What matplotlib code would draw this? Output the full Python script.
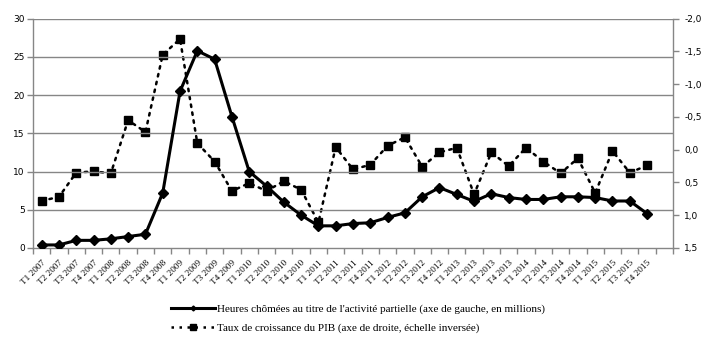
import matplotlib
matplotlib.use("Agg")
import matplotlib.pyplot as plt
from matplotlib.ticker import FuncFormatter, FixedLocator
from matplotlib.lines import Line2D

quarters = [f"T{q} {y}" for y in range(2007, 2016) for q in range(1, 5)]

heures = [0.4, 0.4, 1.0, 1.0, 1.2, 1.5, 1.8, 7.2, 20.5, 25.8, 24.7, 17.2,
          10.0, 8.1, 6.0, 4.3, 2.9, 2.9, 3.2, 3.3, 4.0, 4.6, 6.7, 7.9,
          7.0, 6.1, 7.1, 6.6, 6.35, 6.35, 6.7, 6.7, 6.6, 6.15, 6.15, 4.5]

pib = [0.78, 0.72, 0.35, 0.33, 0.36, -0.45, -0.27, -1.45, -1.69, -0.10, 0.18, 0.63,
       0.51, 0.63, 0.48, 0.61, 1.11, -0.04, 0.30, 0.23, -0.06, -0.19, 0.26, 0.04,
       -0.03, 0.68, 0.04, 0.25, -0.03, 0.18, 0.36, 0.13, 0.66, 0.02, 0.35, 0.24]

label_heures = "Heures chômées au titre de l'activité partielle (axe de gauche, en millions)"
label_pib = "Taux de croissance du PIB (axe de droite, échelle inversée)"

grey = "#868686"
serif = ["Liberation Serif", "DejaVu Serif"]
sans = ["DejaVu Sans"]

fig = plt.figure(figsize=(7.08, 3.49), dpi=100)
ax = fig.add_axes([0.0466, 0.2894, 0.904, 0.657])
ax2 = ax.twinx()

x = list(range(len(quarters)))

ax.set_ylim(0, 30)
ax.set_xlim(-0.5, len(quarters) + 0.5)
ax.set_yticks(range(0, 31, 5))
for v in range(5, 31, 5):
    ax.axhline(v, color=grey, lw=1.0, zorder=0)

ax2.set_ylim(1.5, -2.0)
ax2.set_yticks([-2.0, -1.5, -1.0, -0.5, 0.0, 0.5, 1.0, 1.5])
ax2.yaxis.set_major_formatter(FuncFormatter(lambda v, p: f"{v:.1f}".replace(".", ",").replace("-0,0", "0,0")))

ax2.plot(x, pib, color="black", lw=1.8, ls=(0, (1, 2.2)), marker="s", markersize=6,
         zorder=3, dash_capstyle="round")
ax.plot(x, heures, color="black", lw=2.2, marker="D", markersize=5, zorder=4)
ax.set_zorder(ax2.get_zorder() + 1)
ax.patch.set_visible(False)

for a in (ax, ax2):
    a.spines["top"].set_visible(False)
    for s in ("left", "right", "bottom"):
        a.spines[s].set_color(grey)
        a.spines[s].set_linewidth(1.0)
ax.spines["right"].set_visible(False)
ax2.spines["left"].set_visible(False)
ax2.spines["bottom"].set_visible(False)

ax.tick_params(axis="y", colors=grey, length=4, width=1, labelcolor="black", labelsize=6.5, pad=2)
ax2.tick_params(axis="y", colors=grey, length=4, width=1, labelcolor="black", labelsize=6.5, pad=4)
for lab in ax.get_yticklabels() + ax2.get_yticklabels():
    lab.set_family(sans)

ax.set_xticks(x)
ax.set_xticklabels(quarters, rotation=45, ha="right", rotation_mode="anchor",
                   fontsize=6.7, family=serif)
ax.tick_params(axis="x", which="major", length=0, pad=8)
ax.xaxis.set_minor_locator(FixedLocator([i - 0.5 for i in range(len(quarters) + 2)]))
ax.tick_params(axis="x", which="minor", length=4, width=1, color=grey)

handles = [Line2D([], [], color="black", lw=2.2, marker="D", markersize=2.5),
           Line2D([], [], color="black", lw=1.8, ls=(0, (1, 2.2)), marker="s", markersize=4)]
fig.legend(handles, [label_heures, label_pib], loc="upper left",
           bbox_to_anchor=(0.2415, 0.128), frameon=False,
           prop={"family": serif, "size": 8}, handlelength=4.0,
           handletextpad=0.15, labelspacing=0.75, borderpad=0, borderaxespad=0)

fig.savefig("out.png", dpi=100)
